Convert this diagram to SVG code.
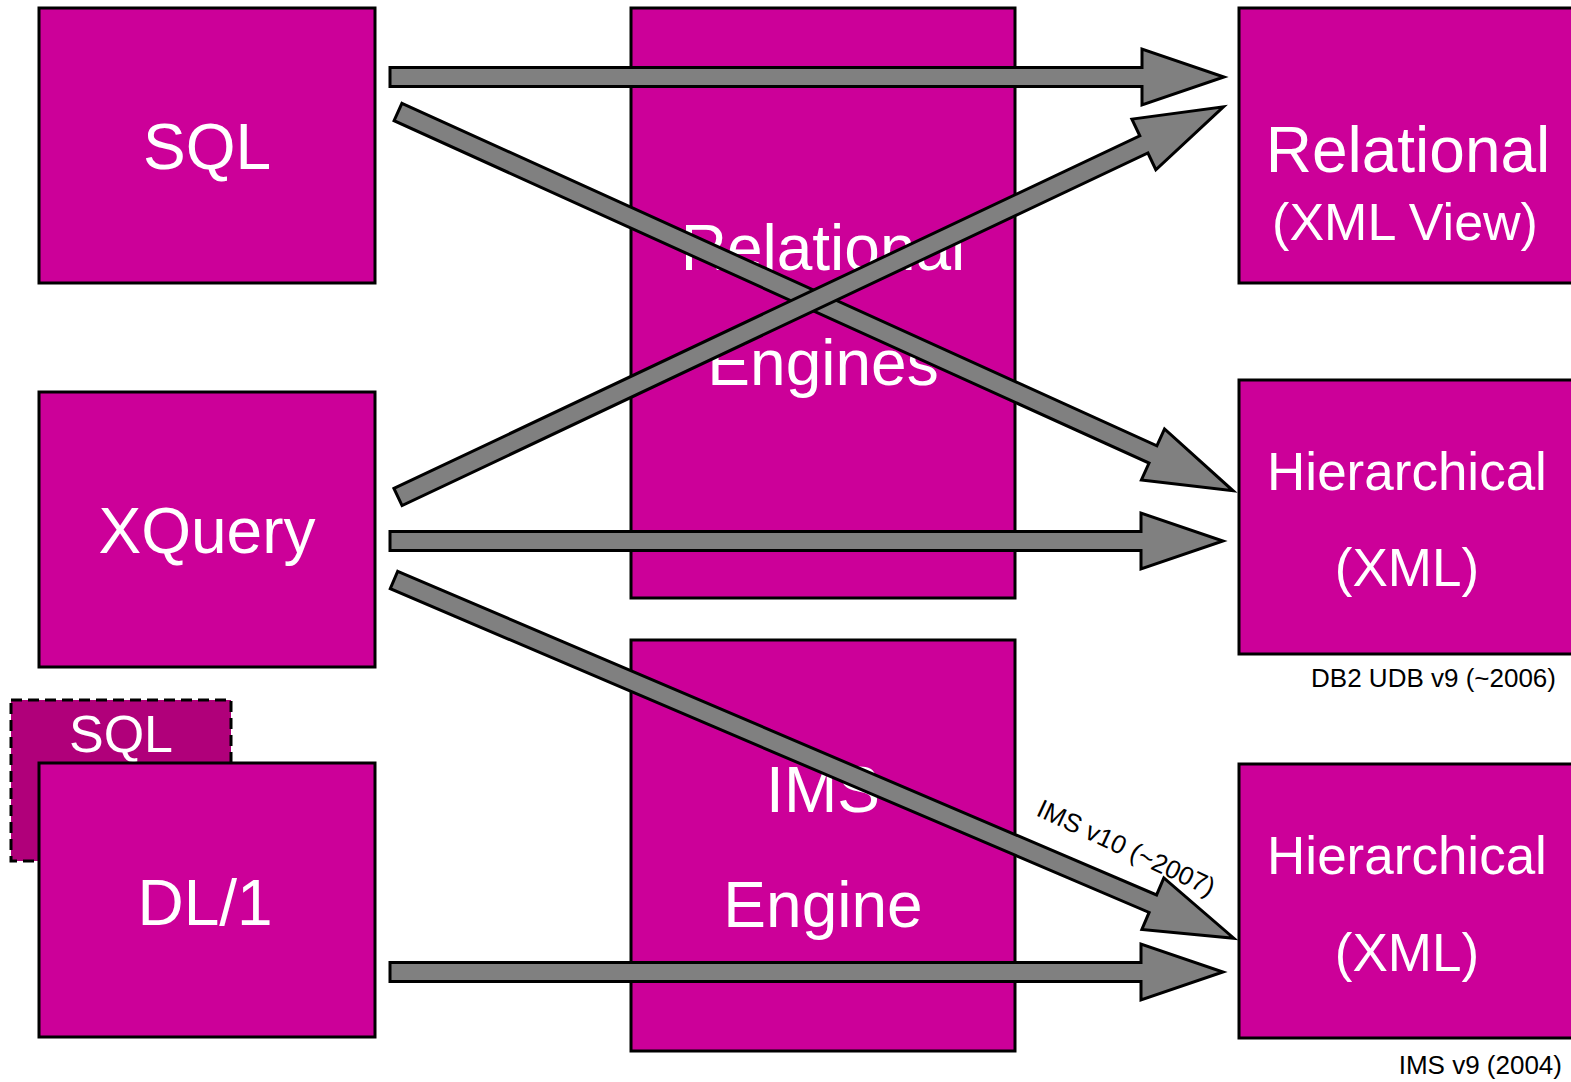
<svg xmlns="http://www.w3.org/2000/svg" width="1571" height="1082" viewBox="0 0 1571 1082">
<style>
.box{fill:#CC0099;stroke:#000;stroke-width:3}
.dash{fill:#B0007A;stroke:#000;stroke-width:3;stroke-dasharray:11 6}
.t{font-family:"Liberation Sans",Arial,sans-serif;fill:#fff;text-anchor:middle}
.big{font-size:64px}
.mid{font-size:53px}
.note{font-family:"Liberation Sans",Arial,sans-serif;fill:#000;font-size:26px}
.arr{fill:#808080;stroke:#000;stroke-width:3;stroke-linejoin:miter}
</style>
<rect width="1571" height="1082" fill="#fff"/>
<g id="engine-relational"><rect class="box" x="631" y="8" width="384" height="590"/><text class="t big" x="823" y="270">Relational</text><text class="t big" x="823" y="385">Engines</text></g>
<g id="engine-ims"><rect class="box" x="631" y="640" width="384" height="411"/><text class="t big" x="823" y="812">IMS</text><text class="t big" x="823" y="927">Engine</text></g>
<g id="sql"><rect class="box" x="39" y="8" width="336" height="275"/><text class="t big" x="207" y="169">SQL</text></g>
<g id="xquery"><rect class="box" x="39" y="392" width="336" height="275"/><text class="t big" x="207" y="553">XQuery</text></g>
<g id="sql-dashed"><rect class="dash" x="11" y="700" width="220" height="161"/><text class="t" style="font-size:52px" x="121" y="752">SQL</text></g>
<g id="dl1"><rect class="box" x="39" y="763" width="336" height="274"/><text class="t big" x="205" y="925">DL/1</text></g>
<g id="relational"><rect class="box" x="1239" y="8" width="340" height="275"/><text class="t big" x="1408" y="172">Relational</text><text class="t" style="font-size:52px" x="1405" y="240">(XML View)</text></g>
<g id="hier1"><rect class="box" x="1239" y="380" width="340" height="274"/><text class="t mid" x="1407" y="490">Hierarchical</text><text class="t mid" x="1407" y="586">(XML)</text></g>
<g id="hier2"><rect class="box" x="1239" y="764" width="340" height="274"/><text class="t mid" x="1407" y="874">Hierarchical</text><text class="t mid" x="1407" y="971">(XML)</text></g>
<g id="labels">
<text class="note" x="1556" y="687" text-anchor="end">DB2 UDB v9 (~2006)</text>
<text class="note" x="1562" y="1074" text-anchor="end">IMS v9 (2004)</text>
<text class="note" x="1035" y="815" transform="rotate(25 1035 815)">IMS v10 (~2007)</text>
</g>
<g id="connectors">
<polygon class="arr" transform="translate(390,77)" points="0,-9.5 752,-9.5 752,-28 834,0 752,28 752,9.5 0,9.5"/>
<polygon class="arr" transform="translate(398,112) rotate(24.4)" points="0,-9.5 829,-9.5 829,-28 917,0 829,28 829,9.5 0,9.5"/>
<polygon class="arr" transform="translate(398,497) rotate(-25.3)" points="0,-9.5 825,-9.5 825,-28 913,0 825,28 825,9.5 0,9.5"/>
<polygon class="arr" transform="translate(390,541)" points="0,-9.5 751,-9.5 751,-28 833,0 751,28 751,9.5 0,9.5"/>
<polygon class="arr" transform="translate(394,580) rotate(23.1)" points="0,-9.5 825,-9.5 825,-28 913,0 825,28 825,9.5 0,9.5"/>
<polygon class="arr" transform="translate(390,972)" points="0,-9.5 751,-9.5 751,-28 833,0 751,28 751,9.5 0,9.5"/>
</g>
</svg>
